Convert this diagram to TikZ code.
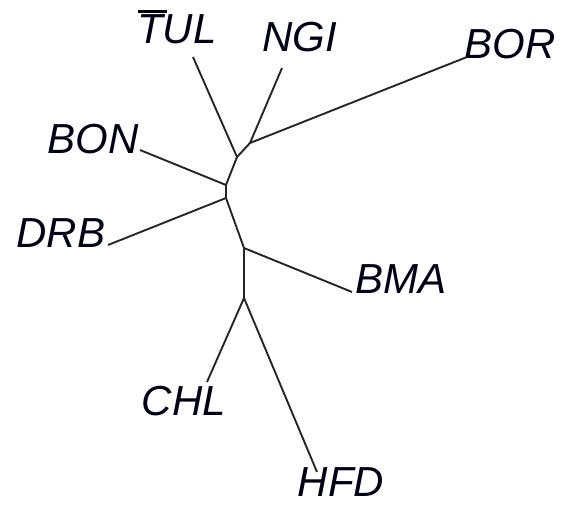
\documentclass[tikz,border=0pt]{standalone}
\usepackage{fontspec}
\setmainfont{Liberation Sans}
\begin{document}
\begin{tikzpicture}[x=1pt,y=-1pt,
  branch/.style={line width=1.9pt,black!85},
  taxon/.style={font=\fontsize{42}{42}\selectfont\itshape,inner sep=0pt,text=black!92!blue}]
\useasboundingbox (0,0) rectangle (561,504);
% internal nodes
\coordinate (a) at (237,157);
\coordinate (b) at (250,143);
\coordinate (c) at (226,185);
\coordinate (d) at (226,198);
\coordinate (e) at (244,248);
\coordinate (f) at (244,298);
% branch tips
\coordinate (tTUL) at (193,57);
\coordinate (tNGI) at (282,68);
\coordinate (tBOR) at (467,57);
\coordinate (tBON) at (140,150);
\coordinate (tDRB) at (108,245);
\coordinate (tBMA) at (352,292);
\coordinate (tCHL) at (207,382);
\coordinate (tHFD) at (317,472);
% labels
\node[taxon] (TUL) at (177,29) {TUL};
\node[taxon] (NGI) at (300,37) {NGI};
\node[taxon] (BOR) at (510,44) {BOR};
\node[taxon] (BON) at (93,139) {BON};
\node[taxon] (DRB) at (61,233) {DRB};
\node[taxon] (BMA) at (401,279) {BMA};
\node[taxon] (CHL) at (184,401) {CHL};
\node[taxon] (HFD) at (341,482) {HFD};
\draw[line width=3pt] (138,11) -- (167,11);
% tree
\draw[branch] (tTUL) -- (a) -- (b) -- (tNGI);
\draw[branch] (b) -- (tBOR);
\draw[branch] (a) -- (c) -- (tBON);
\draw[branch] (c) -- (d) -- (tDRB);
\draw[branch] (d) -- (e) -- (tBMA);
\draw[branch] (e) -- (f) -- (tCHL);
\draw[branch] (f) -- (tHFD);
\end{tikzpicture}
\end{document}
